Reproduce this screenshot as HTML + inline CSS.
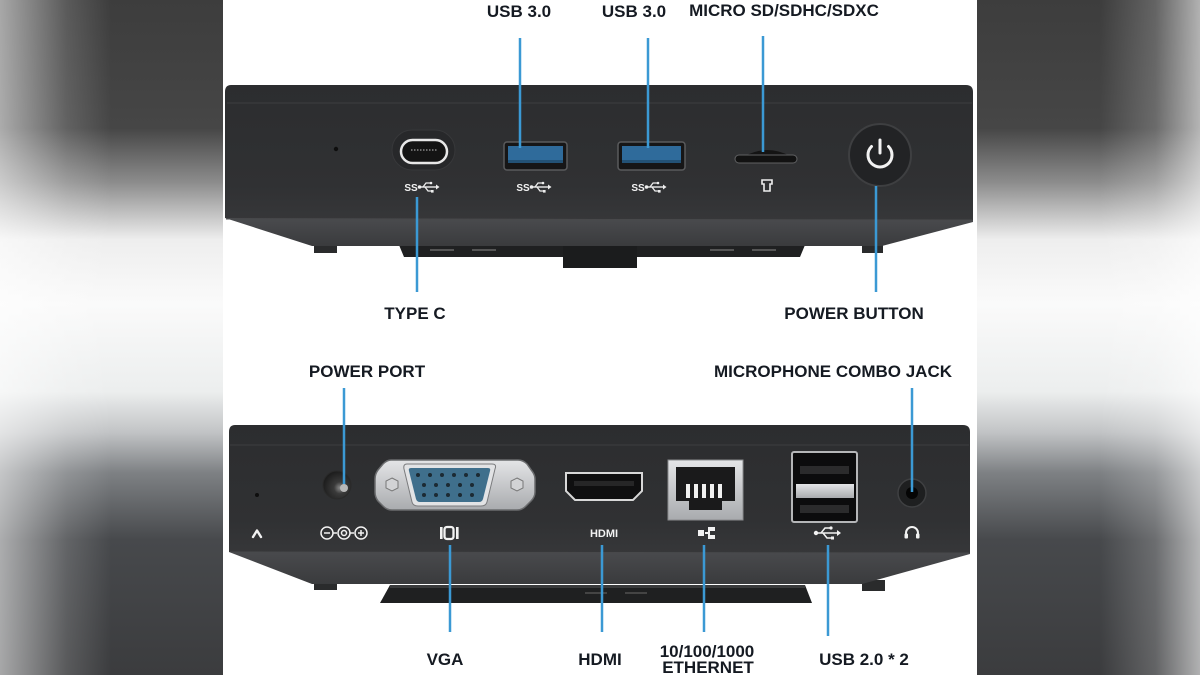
<!DOCTYPE html>
<html><head><meta charset="utf-8"><style>
html,body{margin:0;padding:0;background:#fff;}
svg{display:block;}
.lbl{font-family:"Liberation Sans",Arial,sans-serif;font-weight:bold;font-size:17px;fill:#151a22;text-anchor:middle;}
.ico{font-family:"Liberation Sans",Arial,sans-serif;font-weight:bold;fill:#f2f2f2;text-anchor:middle;}
</style></head><body>
<svg width="1200" height="675" viewBox="0 0 1200 675" xmlns="http://www.w3.org/2000/svg">
<defs>
<linearGradient id="sideV" x1="0" y1="0" x2="0" y2="675" gradientUnits="userSpaceOnUse">
<stop offset="0" stop-color="#3d3d3d"/>
<stop offset="0.19" stop-color="#464646"/>
<stop offset="0.27" stop-color="#8c8c8c"/>
<stop offset="0.355" stop-color="#eeeeee"/>
<stop offset="0.45" stop-color="#fafafa"/>
<stop offset="0.58" stop-color="#eceeee"/>
<stop offset="0.64" stop-color="#c2c4c6"/>
<stop offset="0.70" stop-color="#7e8184"/>
<stop offset="0.80" stop-color="#47494c"/>
<stop offset="1" stop-color="#3b3c3e"/>
</linearGradient>
<linearGradient id="fringeL" x1="0" y1="0" x2="1" y2="0">
<stop offset="0" stop-color="#ffffff" stop-opacity="0.55"/>
<stop offset="0.3" stop-color="#ffffff" stop-opacity="0.15"/>
<stop offset="0.5" stop-color="#ffffff" stop-opacity="0"/>
<stop offset="1" stop-color="#ffffff" stop-opacity="0"/>
</linearGradient>
<linearGradient id="fringeR" x1="0" y1="0" x2="1" y2="0">
<stop offset="0" stop-color="#ffffff" stop-opacity="0"/>
<stop offset="0.55" stop-color="#ffffff" stop-opacity="0"/>
<stop offset="0.8" stop-color="#ffffff" stop-opacity="0.2"/>
<stop offset="1" stop-color="#ffffff" stop-opacity="0.6"/>
</linearGradient>
<linearGradient id="face" x1="0" y1="0" x2="0" y2="1">
<stop offset="0" stop-color="#2c2d2f"/>
<stop offset="0.75" stop-color="#303133"/>
<stop offset="1" stop-color="#363739"/>
</linearGradient>
<linearGradient id="bevel" x1="0" y1="0" x2="0" y2="1">
<stop offset="0" stop-color="#4a4b4e"/>
<stop offset="1" stop-color="#3a3b3d"/>
</linearGradient>
<linearGradient id="silver" x1="0" y1="0" x2="0" y2="1">
<stop offset="0" stop-color="#e4e5e7"/>
<stop offset="1" stop-color="#a9abae"/>
</linearGradient>
<radialGradient id="dc" cx="0.6" cy="0.6" r="0.6">
<stop offset="0" stop-color="#8a8a8a"/>
<stop offset="0.35" stop-color="#3a3a3a"/>
<stop offset="1" stop-color="#1d1d1d"/>
</radialGradient>
</defs>

<!-- side panels -->
<rect x="0" y="0" width="223" height="675" fill="url(#sideV)"/>
<rect x="0" y="0" width="223" height="675" fill="url(#fringeL)"/>
<rect x="977" y="0" width="223" height="675" fill="url(#sideV)"/>
<rect x="977" y="0" width="223" height="675" fill="url(#fringeR)"/>

<!-- ================= TOP DEVICE ================= -->
<!-- bracket -->
<path d="M399 245 L805 245 L800 257 L404 257 Z" fill="#1f2021"/>
<rect x="563" y="245" width="74" height="23" fill="#1b1c1d"/>
<rect x="430" y="249" width="24" height="2" fill="#555"/>
<rect x="472" y="249" width="24" height="2" fill="#555"/>
<rect x="710" y="249" width="24" height="2" fill="#555"/>
<rect x="752" y="249" width="24" height="2" fill="#555"/>
<!-- feet -->
<rect x="314" y="242" width="23" height="11" fill="#2a2b2c"/>
<rect x="862" y="242" width="21" height="11" fill="#2a2b2c"/>
<!-- body -->
<path d="M225 218 L312 246 L882 246 L973 222 L973 218 Z" fill="url(#bevel)"/>
<path d="M231 85 L966 85 Q973 85 973 92 L973 220 L225 218 L225 92 Q225 85 231 85 Z" fill="url(#face)"/>
<line x1="227" y1="103" x2="972" y2="103" stroke="#3b3c3e" stroke-width="1.2"/>
<line x1="226" y1="219" x2="972" y2="220" stroke="#48494b" stroke-width="1"/>

<!-- LED -->
<circle cx="336" cy="149" r="2.2" fill="#0e0e0e"/>
<!-- Type C -->
<rect x="392" y="130" width="63" height="40" rx="20" fill="#27282a" stroke="#37383a" stroke-width="1"/>
<rect x="401" y="140" width="46" height="23" rx="11.5" fill="#141414" stroke="#e8e8e8" stroke-width="2.5"/>
<line x1="411" y1="150" x2="437" y2="150" stroke="#888" stroke-width="1.5" stroke-dasharray="1.5 1.5"/>
<!-- USB 3.0 #1 -->
<rect x="504" y="142" width="63" height="28" rx="3" fill="#161617" stroke="#5a5b5d" stroke-width="1.5"/>
<rect x="508" y="146" width="55" height="17" fill="#2f6b9b"/>
<rect x="508" y="160" width="55" height="3" fill="#235276"/>
<!-- USB 3.0 #2 -->
<rect x="618" y="142" width="67" height="28" rx="3" fill="#161617" stroke="#5a5b5d" stroke-width="1.5"/>
<rect x="622" y="146" width="59" height="17" fill="#2f6b9b"/>
<rect x="622" y="160" width="59" height="3" fill="#235276"/>
<!-- micro SD -->
<path d="M745 156 Q767 144 790 156 Z" fill="#141414"/>
<rect x="735" y="155" width="62" height="8" rx="4" fill="#121212" stroke="#606163" stroke-width="1"/>
<!-- SD icon -->
<path d="M762 180 L772 180 L772 184 L770 184 L770 191 L764 191 L764 184 L762 184 Z" fill="none" stroke="#eee" stroke-width="1.6"/>
<!-- power button -->
<circle cx="880" cy="155" r="31" fill="#222325" stroke="#3e3f41" stroke-width="2"/>
<path d="M871.5 146.5 A12 12 0 1 0 888.5 146.5" fill="none" stroke="#f2f2f2" stroke-width="3" stroke-linecap="round"/>
<line x1="880" y1="140" x2="880" y2="153" stroke="#f2f2f2" stroke-width="3" stroke-linecap="round"/>

<!-- SS usb logos -->
<g id="ss1">
<text x="411" y="191" class="ico" font-size="10">SS</text>
<circle cx="419.5" cy="187" r="1.8" fill="#eee"/>
<line x1="420" y1="187" x2="436" y2="187" stroke="#eee" stroke-width="1.4"/>
<path d="M436 184.5 L439.5 187 L436 189.5 Z" fill="#eee"/>
<path d="M423 187 L426 183 L430 183" fill="none" stroke="#eee" stroke-width="1.3"/>
<path d="M425 187 L428 191 L431 191" fill="none" stroke="#eee" stroke-width="1.3"/>
<circle cx="431" cy="183" r="1.3" fill="#eee"/>
<rect x="431" y="190" width="2.6" height="2.6" fill="#eee"/>
</g>
<use href="#ss1" x="112" y="0"/>
<use href="#ss1" x="227" y="0"/>

<!-- ================= BOTTOM DEVICE ================= -->
<path d="M390 585 L805 585 L812 603 L380 603 Z" fill="#1f2021"/>
<rect x="390" y="585" width="415" height="3" fill="#3a3b3c"/>
<rect x="585" y="592" width="22" height="2" fill="#444"/>
<rect x="625" y="592" width="22" height="2" fill="#444"/>
<rect x="314" y="580" width="23" height="10" fill="#2a2b2c"/>
<rect x="862" y="580" width="23" height="11" fill="#2a2b2c"/>
<path d="M229 552 L312 584 L862 584 L970 554 L970 550 Z" fill="url(#bevel)"/>
<path d="M235 425 L963 425 Q970 425 970 432 L970 553 L229 552 L229 432 Q229 425 235 425 Z" fill="url(#face)"/>
<line x1="230" y1="445" x2="969" y2="445" stroke="#3b3c3e" stroke-width="1.2"/>
<line x1="230" y1="552" x2="969" y2="553" stroke="#48494b" stroke-width="1"/>

<!-- LED + icon -->
<circle cx="257" cy="495" r="2" fill="#0e0e0e"/>
<path d="M253 537 L257 530.5 L261 537" fill="none" stroke="#f2f2f2" stroke-width="2.4" stroke-linecap="round" stroke-linejoin="round"/>
<!-- DC jack -->
<circle cx="337" cy="485" r="14" fill="url(#dc)" stroke="#2a2a2a" stroke-width="1"/>
<circle cx="344" cy="488" r="4" fill="#b8b8b8"/>
<!-- DC symbol -->
<g fill="none" stroke="#f2f2f2" stroke-width="1.5">
<circle cx="327" cy="533" r="6"/>
<line x1="324" y1="533" x2="330" y2="533"/>
<line x1="333" y1="533" x2="337" y2="533"/>
<circle cx="344" cy="533" r="6"/>
<circle cx="344" cy="533" r="2.5"/>
<line x1="350" y1="533" x2="354" y2="533"/>
<circle cx="361" cy="533" r="6"/>
<line x1="358" y1="533" x2="364" y2="533"/>
<line x1="361" y1="530" x2="361" y2="536"/>
</g>
<!-- VGA -->
<path d="M391 460 L518 460 Q523 460 527 464 L532 471 Q535 475 535 479 L535 492 Q535 497 531 501 L526 506 Q522 510 517 510 L392 510 Q387 510 383 506 L378 501 Q375 497 375 492 L375 479 Q375 474 378 470 L383 464 Q387 460 391 460 Z" fill="url(#silver)" stroke="#6b6c6e" stroke-width="1.5"/>
<path d="M407 464 L492 464 Q497 464 495 469 L487 502 Q486 506 481 506 L418 506 Q413 506 412 502 L404 469 Q403 464 407 464 Z" fill="#e2e3e5" stroke="#7a7b7d" stroke-width="1"/>
<path d="M411 468 L488 468 Q491 468 490 471 L483 499 Q482 502 479 502 L420 502 Q417 502 416 499 L409 471 Q408 468 411 468 Z" fill="#3f6f8c"/>
<g fill="#1c2a33">
<circle cx="418" cy="475" r="2"/><circle cx="430" cy="475" r="2"/><circle cx="442" cy="475" r="2"/><circle cx="454" cy="475" r="2"/><circle cx="466" cy="475" r="2"/><circle cx="478" cy="475" r="2"/>
<circle cx="424" cy="485" r="2"/><circle cx="436" cy="485" r="2"/><circle cx="448" cy="485" r="2"/><circle cx="460" cy="485" r="2"/><circle cx="472" cy="485" r="2"/>
<circle cx="424" cy="495" r="2"/><circle cx="436" cy="495" r="2"/><circle cx="448" cy="495" r="2"/><circle cx="460" cy="495" r="2"/><circle cx="472" cy="495" r="2"/>
</g>
<g fill="#d2d3d5" stroke="#777" stroke-width="1">
<polygon points="392,478 398,481 398,488 392,491 386,488 386,481"/>
<polygon points="517,478 523,481 523,488 517,491 511,488 511,481"/>
</g>
<!-- VGA icon -->
<rect x="440" y="527" width="2.6" height="12" fill="#f2f2f2"/>
<rect x="444.5" y="527" width="9" height="12" rx="2.5" fill="none" stroke="#f2f2f2" stroke-width="2.3"/>
<rect x="456" y="527" width="2.6" height="12" fill="#f2f2f2"/>
<!-- HDMI -->
<path d="M566 473 L642 473 L642 491 L633 500 L575 500 L566 491 Z" fill="#0f0f10" stroke="#d8d8d8" stroke-width="2"/>
<rect x="574" y="481" width="60" height="5" fill="#262627"/>
<text x="604" y="537" class="ico" font-size="11" font-weight="normal">HDMI</text>
<!-- Ethernet -->
<rect x="668" y="460" width="75" height="60" fill="url(#silver)" stroke="#8a8b8d" stroke-width="1"/>
<path d="M676 467 L735 467 L735 501 L722 501 L722 510 L689 510 L689 501 L676 501 Z" fill="#1a1a1b"/>
<g fill="#f0f0f0">
<rect x="686" y="484" width="4" height="14"/><rect x="694" y="484" width="4" height="14"/><rect x="702" y="484" width="4" height="14"/><rect x="710" y="484" width="4" height="14"/><rect x="718" y="484" width="4" height="14"/>
</g>
<!-- ethernet icon -->
<g fill="#f2f2f2">
<rect x="698" y="530" width="6" height="6"/>
<rect x="705" y="532" width="3" height="2"/>
<rect x="708" y="527" width="2" height="12"/>
<rect x="710" y="527" width="5" height="4"/>
<rect x="710" y="535" width="5" height="4"/>
</g>
<!-- USB 2.0 x2 -->
<rect x="792" y="452" width="65" height="70" rx="2" fill="#0c0c0d" stroke="#b5b6b8" stroke-width="2"/>
<rect x="800" y="466" width="49" height="8" fill="#2b2b2c"/>
<rect x="800" y="505" width="49" height="8" fill="#2b2b2c"/>
<rect x="796" y="484" width="58" height="14" fill="url(#silver)"/>
<!-- USB icon -->
<circle cx="816" cy="533" r="2.2" fill="#f2f2f2"/>
<line x1="817" y1="533" x2="837" y2="533" stroke="#f2f2f2" stroke-width="1.6"/>
<path d="M837 530 L841 533 L837 536 Z" fill="#f2f2f2"/>
<path d="M821 533 L825 528 L830 528" fill="none" stroke="#f2f2f2" stroke-width="1.5"/>
<path d="M823 533 L827 538 L831 538" fill="none" stroke="#f2f2f2" stroke-width="1.5"/>
<circle cx="831" cy="528" r="1.6" fill="#f2f2f2"/>
<rect x="831" y="536.5" width="3" height="3" fill="#f2f2f2"/>
<!-- audio jack -->
<circle cx="912" cy="493" r="14" fill="#1e1f20" stroke="#3f4042" stroke-width="1.5"/>
<circle cx="912" cy="493" r="6" fill="#050505"/>
<!-- headphone icon -->
<path d="M906 538 L906 533 A6 6 0 0 1 918 533 L918 538" fill="none" stroke="#f2f2f2" stroke-width="2"/>
<rect x="904.5" y="533.5" width="3.5" height="5" rx="1" fill="#f2f2f2"/>
<rect x="916" y="533.5" width="3.5" height="5" rx="1" fill="#f2f2f2"/>

<!-- ================= CONNECTORS ================= -->
<g stroke="#3b99d4" stroke-width="2.5">
<line x1="520" y1="38" x2="520" y2="148"/>
<line x1="648" y1="38" x2="648" y2="148"/>
<line x1="763" y1="36" x2="763" y2="152"/>
<line x1="417" y1="197" x2="417" y2="292"/>
<line x1="876" y1="186" x2="876" y2="292"/>
<line x1="344" y1="388" x2="344" y2="484"/>
<line x1="912" y1="388" x2="912" y2="492"/>
<line x1="450" y1="545" x2="450" y2="632"/>
<line x1="602" y1="545" x2="602" y2="632"/>
<line x1="704" y1="545" x2="704" y2="632"/>
<line x1="828" y1="545" x2="828" y2="636"/>
</g>

<!-- ================= LABELS ================= -->
<text class="lbl" x="519" y="17">USB 3.0</text>
<text class="lbl" x="634" y="17">USB 3.0</text>
<text class="lbl" x="784" y="16">MICRO SD/SDHC/SDXC</text>
<text class="lbl" x="415" y="319">TYPE C</text>
<text class="lbl" x="854" y="319">POWER BUTTON</text>
<text class="lbl" x="367" y="377">POWER PORT</text>
<text class="lbl" x="833" y="377">MICROPHONE COMBO JACK</text>
<text class="lbl" x="445" y="665">VGA</text>
<text class="lbl" x="600" y="665">HDMI</text>
<text class="lbl" x="707" y="657">10/100/1000</text>
<text class="lbl" x="708" y="673">ETHERNET</text>
<text class="lbl" x="864" y="665">USB 2.0 * 2</text>
</svg>
</body></html>
